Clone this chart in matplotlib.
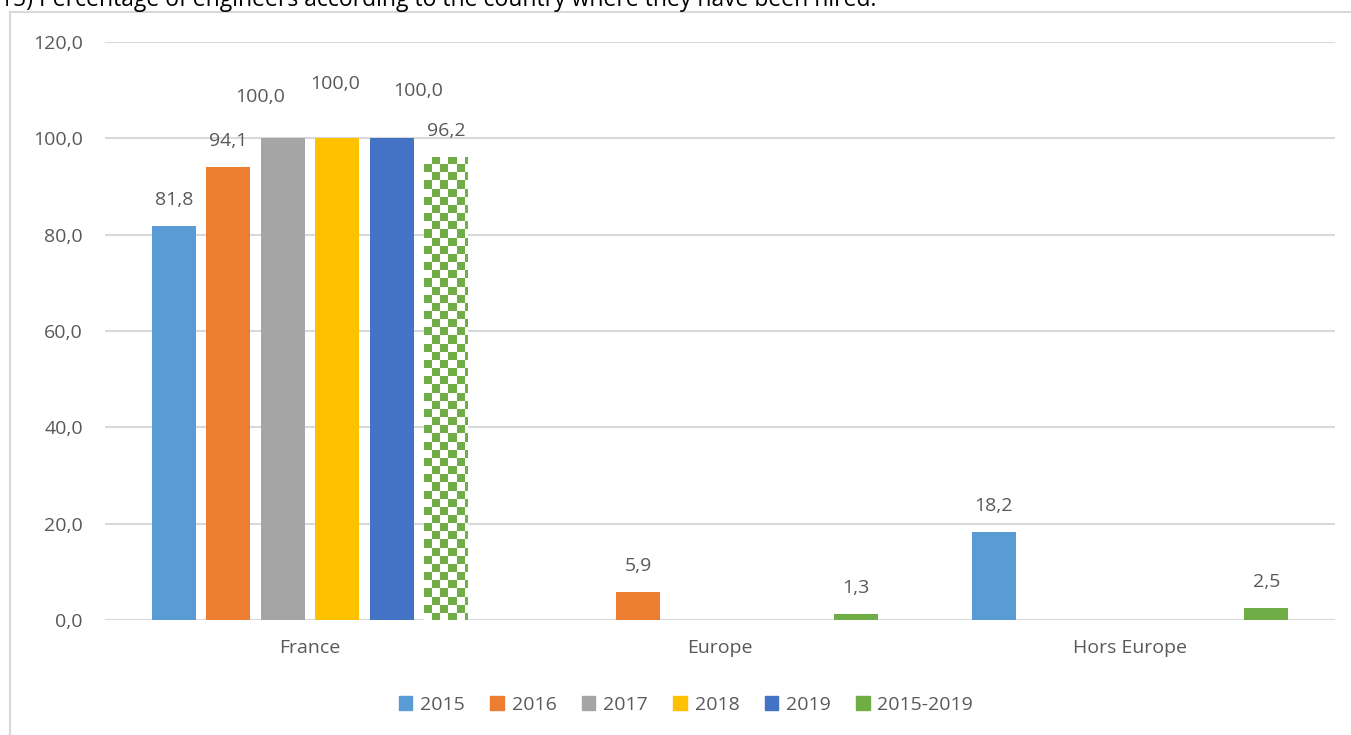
import numpy as np
import matplotlib
matplotlib.use("Agg")
import matplotlib.pyplot as plt
from matplotlib.colors import ListedColormap

plt.rcParams['font.family'] = ['Open Sans', 'DejaVu Sans']

categories = ["France", "Europe", "Hors Europe"]
series = ["2015", "2016", "2017", "2018", "2019", "2015-2019"]
values = [
    [81.8, 0, 18.2],   # 2015
    [94.1, 5.9, 0],    # 2016
    [100.0, 0, 0],     # 2017
    [100.0, 0, 0],     # 2018
    [100.0, 0, 0],     # 2019
    [96.2, 1.3, 2.5],  # 2015-2019
]
yticks = [0, 20, 40, 60, 80, 100, 120]

colors = ["#5B9BD5", "#ED7D31", "#A5A5A5", "#FFC000", "#4472C4", "#70AD47"]
txt = "#595959"
fs = 14

# extra label nudges in px (series index, category index) -> (dx, dy)
nudges = {(2, 0): (-23, 15), (3, 0): (-2, 28), (4, 0): (26, 21)}

W, H = 1351, 735
fig = plt.figure(figsize=(W / 100, H / 100), dpi=100)
ax = fig.add_axes([105 / W, 1 - 620 / H, (1335 - 105) / W, (620 - 42) / H])

# frame and title (cut at the top edge, as in the source)
fig.add_artist(plt.Line2D([10 / W, 1], [1 - 12 / H] * 2, color="#D9D9D9", lw=1.5))
fig.add_artist(plt.Line2D([10 / W] * 2, [0, 1 - 12 / H], color="#D9D9D9", lw=1.5))
fig.text(0, 1 - 6 / H, "15) Percentage of engineers according to the country where they have been hired.",
         fontsize=16.5, color="black", va="baseline", ha="left")

x = np.arange(len(categories))
step = 54.5 / 410
width = 44 / 410
ax.set_xlim(-0.5, 2.5)
ax.set_ylim(0, 120)

bars = []
for i, (name, vals) in enumerate(zip(series, values)):
    pos = x + (i - 2.5) * step
    b = ax.bar(pos, vals, width, color=colors[i], label=name, zorder=3)
    bars.append(b)
    for j, v in enumerate(vals):
        if v == 0:
            continue
        dx, dy = nudges.get((i, j), (0, 0))
        ax.annotate(f"{v:.1f}".replace(".", ","), (pos[j], v),
                    xytext=(dx * 0.72, (26 + dy) * 0.72), textcoords="offset points",
                    ha="center", va="center", fontsize=fs, color=txt)

# checkered pattern for France 2015-2019
rect = bars[5][0]
rect.set_facecolor("white")
fig.canvas.draw()
x0, y0 = ax.transData.transform((rect.get_x(), 0))
x1, y1 = ax.transData.transform((rect.get_x() + rect.get_width(), rect.get_height()))
cell = (x1 - x0) / 5.4
ncols = int(np.ceil((x1 - x0) / cell))
nrows = int(np.ceil((y1 - y0) / cell))
checker = (np.add.outer(np.arange(nrows), np.arange(ncols)) % 2)
ext_w = rect.get_width() * ncols * cell / (x1 - x0)
ext_h = rect.get_height() * nrows * cell / (y1 - y0)
im = ax.imshow(checker, cmap=ListedColormap(["white", colors[5]]), interpolation="nearest",
               aspect="auto", origin="upper",
               extent=(rect.get_x(), rect.get_x() + ext_w, rect.get_height() - ext_h, rect.get_height()),
               zorder=4)
im.set_clip_path(rect)
ax.set_xlim(-0.5, 2.5)
ax.set_ylim(0, 120)

ax.set_yticks(yticks)
ax.set_yticklabels([f"{t:.1f}".replace(".", ",") for t in yticks])
ax.set_xticks(x)
ax.set_xticklabels(categories)
ax.tick_params(length=0, colors=txt, labelsize=fs)
ax.tick_params(axis="y", pad=16)
ax.tick_params(axis="x", pad=14)
ax.grid(axis="y", color="#D9D9D9", lw=1.5, zorder=0)
for s in ax.spines.values():
    s.set_visible(False)

handles = [plt.Rectangle((0, 0), 1, 1, color=c) for c in colors]
fig.legend(handles, series, loc="center", bbox_to_anchor=(686 / W, 1 - 705 / H), ncol=6,
           frameon=False, handlelength=0.7, handleheight=0.7, handletextpad=0.4,
           columnspacing=1.3, fontsize=fs, labelcolor=txt)

fig.savefig("out.png", dpi=100)
